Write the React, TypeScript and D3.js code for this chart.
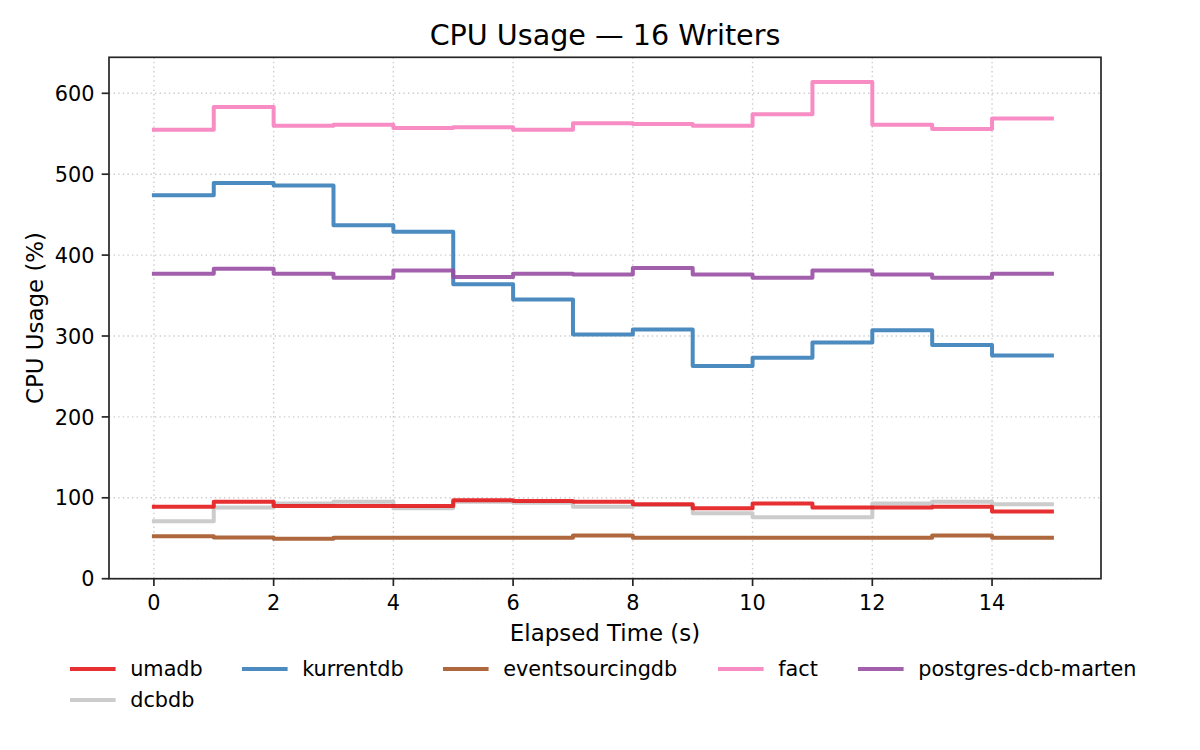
import React from "react";
import * as d3 from "d3";

const seconds = [0, 1, 2, 3, 4, 5, 6, 7, 8, 9, 10, 11, 12, 13, 14, 15];

const umadb = [89, 95, 90, 90, 90, 97, 96, 95, 92, 87, 93, 88, 88, 89, 83, 83];
const dcbdb = [71, 88, 93, 95, 87, 95, 94, 89, 91, 81, 76, 76, 93, 95, 92, 92];
const kurrentdb = [474, 489, 486, 437, 429, 364, 345, 302, 308, 263, 273, 292, 307, 289, 276, 276];
const eventsourcingdb = [52.5, 51, 49.5, 50.5, 50.5, 50.5, 50.5, 53.5, 50.5, 50.5, 50.5, 50.5, 50.5, 53.5, 50.5, 50.5];
const fact = [555, 583, 560, 561, 557, 558, 555, 563, 562, 560, 574, 614, 561, 556, 569, 569];
const postgresDcbMarten = [377, 383, 377, 372, 381, 373, 377, 376, 384, 376, 372, 381, 376, 372, 377, 377];

const xTicks = [0, 2, 4, 6, 8, 10, 12, 14];
const yTicks = [0, 100, 200, 300, 400, 500, 600];

const seriesNames = ["umadb", "dcbdb", "kurrentdb", "eventsourcingdb", "fact", "postgres-dcb-marten"];
const seriesValues = [umadb, dcbdb, kurrentdb, eventsourcingdb, fact, postgresDcbMarten];
const seriesColors = ["#e41a1c", "#cccccc", "#377eb8", "#a65628", "#f781bf", "#984ea3"];
const seriesOpacity = [0.9, 1, 0.9, 0.9, 0.9, 0.9];
const drawOrder = [1, 0, 2, 3, 4, 5];

const title = "CPU Usage — 16 Writers";
const xLabel = "Elapsed Time (s)";
const yLabel = "CPU Usage (%)";

const FONT = "'DejaVu Sans', sans-serif";

export default function App() {
  const W = 1200;
  const H = 750;
  const left = 109;
  const right = 1101;
  const top = 57.3;
  const bottom = 578.7;

  const x = d3.scaleLinear().domain([-0.75, 15.82]).range([left, right]);
  const y = d3.scaleLinear().domain([0, 644.5]).range([bottom, top]);

  const line = d3
    .line<[number, number]>()
    .x((d) => x(d[0]))
    .y((d) => y(d[1]))
    .curve(d3.curveStepAfter);

  const tickLen = 7.3;
  const tickFont = 20.8;
  const spineColor = "#262626";

  // legend layout (matplotlib-like, 5 columns)
  const legCols = [72, 244, 445, 720, 860];
  const legRows = [669, 700];
  const handleLen = 41.6;
  const handleGap = 16.6;
  // column-major filling with 6 items in 5 columns: first column gets 2 items
  const legendSlots = [
    [0, 0],
    [0, 1],
    [1, 0],
    [2, 0],
    [3, 0],
    [4, 0],
  ];

  return (
    <svg
      width={W}
      height={H}
      viewBox={`0 0 ${W} ${H}`}
      style={{ position: "absolute", left: 0, top: 0, background: "#fff" }}
      fontFamily={FONT}
    >
      <rect x={0} y={0} width={W} height={H} fill="#fff" />

      {/* grid */}
      <g stroke="#cccccc" strokeWidth={1.4} strokeDasharray="1.4,3.2">
        {xTicks.map((t) => (
          <line key={"gx" + t} x1={x(t)} x2={x(t)} y1={top} y2={bottom} />
        ))}
        {yTicks.map((t) => (
          <line key={"gy" + t} x1={left} x2={right} y1={y(t)} y2={y(t)} />
        ))}
      </g>

      {/* series */}
      <g fill="none">
        {drawOrder.map((i) => {
          const pts: [number, number][] = seconds.map((s, k) => [s, seriesValues[i][k]]);
          return (
            <path
              key={seriesNames[i]}
              d={line(pts) || ""}
              stroke={seriesColors[i]}
              strokeOpacity={seriesOpacity[i]}
              strokeWidth={4}
              strokeLinejoin="round"
              strokeLinecap="square"
            />
          );
        })}
      </g>

      {/* spines */}
      <rect
        x={left}
        y={top}
        width={right - left}
        height={bottom - top}
        fill="none"
        stroke={spineColor}
        strokeWidth={1.7}
      />

      {/* x ticks */}
      <g>
        {xTicks.map((t) => (
          <g key={"xt" + t}>
            <line x1={x(t)} x2={x(t)} y1={bottom} y2={bottom + tickLen} stroke={spineColor} strokeWidth={1.7} />
            <text x={x(t)} y={610} textAnchor="middle" fontSize={tickFont} fill="#000">
              {t}
            </text>
          </g>
        ))}
      </g>

      {/* y ticks */}
      <g>
        {yTicks.map((t) => (
          <g key={"yt" + t}>
            <line x1={left - tickLen} x2={left} y1={y(t)} y2={y(t)} stroke={spineColor} strokeWidth={1.7} />
            <text x={left - tickLen - 7.3} y={y(t) + 7.6} textAnchor="end" fontSize={tickFont} fill="#000">
              {t}
            </text>
          </g>
        ))}
      </g>

      {/* labels */}
      <text x={(left + right) / 2} y={641} textAnchor="middle" fontSize={22.9} fill="#000">
        {xLabel}
      </text>
      <text
        transform={`translate(43, ${(top + bottom) / 2}) rotate(-90)`}
        textAnchor="middle"
        fontSize={22.9}
        fill="#000"
      >
        {yLabel}
      </text>
      <text x={(left + right) / 2} y={45} textAnchor="middle" fontSize={28.6} fill="#000">
        {title}
      </text>

      {/* legend */}
      <g>
        {seriesNames.map((name, i) => {
          const [c, r] = legendSlots[i];
          const hx = legCols[c];
          const hy = legRows[r];
          return (
            <g key={"leg" + name}>
              <line
                x1={hx}
                x2={hx + handleLen}
                y1={hy}
                y2={hy}
                stroke={seriesColors[i]}
                strokeOpacity={seriesOpacity[i]}
                strokeWidth={4}
                strokeLinecap="square"
              />
              <text x={hx + handleLen + handleGap} y={hy + 7.4} fontSize={20.8} fill="#000">
                {name}
              </text>
            </g>
          );
        })}
      </g>
    </svg>
  );
}
